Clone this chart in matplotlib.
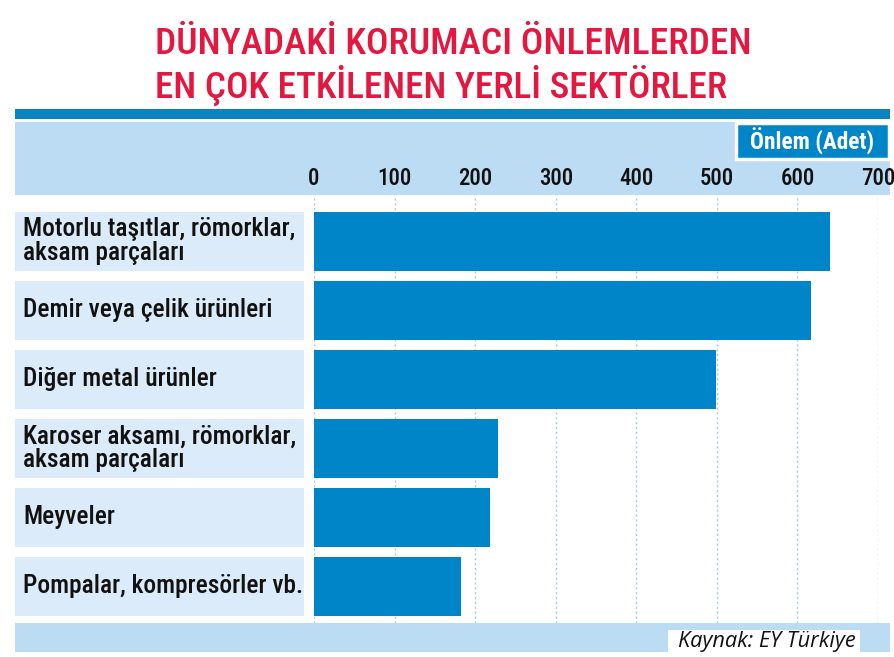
import matplotlib
matplotlib.use("Agg")
import matplotlib.pyplot as plt
import matplotlib.transforms as mtransforms
from matplotlib import font_manager
from matplotlib.patches import Rectangle

# data
sectors = [
    "Motorlu taşıtlar, römorklar,\naksam parçaları",
    "Demir veya çelik ürünleri",
    "Diğer metal ürünler",
    "Karoser aksamı, römorklar,\naksam parçaları",
    "Meyveler",
    "Pompalar, kompresörler vb.",
]
measures = [641, 617, 499, 228, 218, 183]
ticks = [0, 100, 200, 300, 400, 500, 600, 700]
title_lines = ["DÜNYADAKİ KORUMACI ÖNLEMLERDEN", "EN ÇOK ETKİLENEN YERLİ SEKTÖRLER"]
unit_label = "Önlem (Adet)"
source = "Kaynak: EY Türkiye"

# colours
red = "#E3173F"
bar_blue = "#0086C8"
band_blue = "#BBDCF3"
row_blue = "#DCEBF9"
grid_col = "#A9C9E2"

# look for a condensed face, otherwise fall back to Roboto
fonts = font_manager.fontManager.ttflist
cond_names = {f.name for f in fonts
              if str(f.stretch) in ("condensed", "semi-condensed", "extra-condensed")
              or "Narrow" in f.name or "Condensed" in f.name}
narrow, stretch = "Roboto", "normal"
for c in ["Liberation Sans Narrow", "Roboto Condensed", "Open Sans Condensed",
          "Noto Sans Condensed", "DejaVu Sans Condensed", "Noto Sans", "DejaVu Sans",
          "Open Sans", "Roboto"]:
    if c in cond_names:
        narrow, stretch = c, "condensed"
        break

W, H = 895, 657
fig = plt.figure(figsize=(W / 100, H / 100), dpi=100)


def box(x0, y0, x1, y1, **kw):
    # rectangle in pixel coords, y measured from the top
    r = Rectangle((x0 / W, 1 - y1 / H), (x1 - x0) / W, (y1 - y0) / H,
                  transform=fig.transFigure, zorder=-1, **kw)
    fig.add_artist(r)
    return r


# header stripes and bands
box(15, 109, 890, 119, facecolor="#0A84C1", edgecolor="none")
box(15, 122, 890, 195, facecolor=band_blue, edgecolor="none")
box(736, 123, 889, 159, facecolor=bar_blue, edgecolor="white", linewidth=2.5)
box(15, 623, 890, 652, facecolor=band_blue, edgecolor="none")
box(668, 630, 860, 652, facecolor="white", edgecolor="none")

# main axes, 0..700 maps to x pixels 314..878
ax = fig.add_axes([314 / W, 1 - 623 / H, (878 - 314) / W, (623 - 196) / H])
ax.set_zorder(2)
ax.set_facecolor("none")
ypos = list(range(len(sectors)))
ax.barh(ypos, measures, height=0.855, color=bar_blue, zorder=3)
ax.set_xticks(ticks)
ax.set_xticklabels([str(t) for t in ticks], fontsize=16.5, family=narrow,
                   fontstretch=stretch, fontweight="medium", color="#111111")
ax.xaxis.tick_top()
ax.tick_params(axis="x", length=0, pad=4)
ax.set_yticks([])
ax.grid(axis="x", linestyle=(0, (1.5, 2)), color=grid_col, linewidth=1, zorder=0)
for s in ax.spines.values():
    s.set_visible(False)

# label boxes on the left, one per row
trans = mtransforms.blended_transform_factory(fig.transFigure, ax.transData)
labels = []
for y, name in zip(ypos, sectors):
    ax.add_patch(Rectangle((15 / W, y - 0.4275), (304 - 15) / W, 0.855,
                           transform=trans, facecolor=row_blue, edgecolor="none",
                           clip_on=False, zorder=1))
    labels.append(ax.text(23 / W, y, name, transform=trans, ha="left", va="center",
                          fontsize=16.5, family=narrow, fontstretch=stretch,
                          fontweight="medium", color="#111111", linespacing=1.0,
                          zorder=4))
ax.set_xlim(0, 700)
ax.set_ylim(5.529, -0.659)

# title, sized to fit the original widths
t1 = fig.text(155 / W, 1 - 54 / H, title_lines[0], ha="left", va="baseline",
              color=red, family=narrow, fontstretch=stretch, fontweight="medium",
              fontsize=30)
t2 = fig.text(155 / W, 1 - 98 / H, title_lines[1], ha="left", va="baseline",
              color=red, family=narrow, fontstretch=stretch, fontweight="medium",
              fontsize=30)
u = fig.text(812 / W, 1 - 141 / H, unit_label, ha="center", va="center",
             color="white", fontweight="bold", family=narrow, fontstretch=stretch, fontsize=16)
src = fig.text(678 / W, 1 - 641 / H, source, ha="left", va="center",
               color="#111111", style="italic", family="Open Sans", fontsize=12.5)

fig.canvas.draw()
r = fig.canvas.get_renderer()
for t, target in [(t1, 595), (t2, 572), (u, 124), (src, 178)]:
    w = t.get_window_extent(r).width
    t.set_fontsize(t.get_fontsize() * target / w)

# row labels: scale all by the widest line (270 px in the reference)
k = 272 / labels[0].get_window_extent(r).width
for t in labels:
    t.set_fontsize(t.get_fontsize() * k)

fig.savefig("out.png", dpi=100, facecolor="white")
